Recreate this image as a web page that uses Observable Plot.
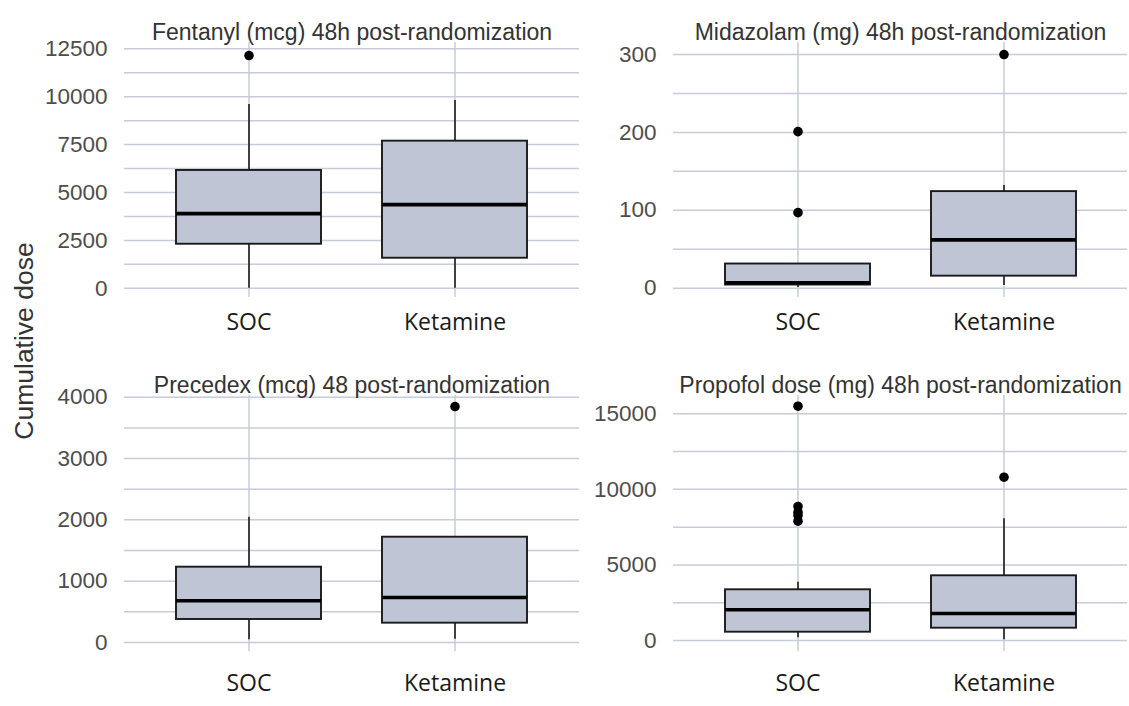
<!DOCTYPE html>
<html>
<head>
<meta charset="utf-8">
<script src="https://cdn.jsdelivr.net/npm/d3@7"></script>
<script src="https://cdn.jsdelivr.net/npm/@observablehq/plot@0.6"></script>
<style>
  body { margin: 0; background: #fff; }
  #wrap { position: relative; width: 1129px; height: 706px; overflow: hidden; background: #fff; }
  #ylab { position: absolute; left: 24px; top: 341px; transform: translate(-50%, -50%) rotate(-90deg);
          font-family: "Liberation Sans", Arial, sans-serif; font-size: 26.5px; line-height: 1; color: #333; white-space: nowrap; }
</style>
</head>
<body>
<div id="wrap"><div id="ylab">Cumulative dose</div></div>
<script>
// categories
const groups = ["SOC", "Ketamine"];

// box statistics: [group, lower whisker, Q1, median, Q3, upper whisker]
const fentanyl = [["SOC", 0, 2300, 3900, 6150, 9590], ["Ketamine", 0, 1570, 4370, 7680, 9800]];
const fentanylOutliers = [["SOC", 12150]];
const fentanylTicks = [0, 2500, 5000, 7500, 10000, 12500];

const midazolam = [["SOC", 1, 4, 7, 31, 31], ["Ketamine", 3.5, 15.4, 62, 124, 132]];
const midazolamOutliers = [["SOC", 201], ["SOC", 97], ["Ketamine", 300]];
const midazolamTicks = [0, 100, 200, 300];

const precedex = [["SOC", 44, 375, 680, 1228, 2043], ["Ketamine", 54, 315, 734, 1717, 1717]];
const precedexOutliers = [["Ketamine", 3848]];
const precedexTicks = [0, 1000, 2000, 3000, 4000];

const propofol = [["SOC", 179, 549, 2031, 3355, 3858], ["Ketamine", 46, 814, 1787, 4281, 8052]];
const propofolOutliers = [["SOC", 15503], ["SOC", 8866], ["SOC", 8490], ["SOC", 8271], ["SOC", 7894], ["Ketamine", 10805]];
const propofolTicks = [0, 5000, 10000, 15000];

const titles = [
  "Fentanyl (mcg) 48h post-randomization",
  "Midazolam (mg) 48h post-randomization",
  "Precedex (mcg) 48 post-randomization",
  "Propofol dose (mg) 48h post-randomization"
];

const W = 1129, H = 706;
const gridColor = "#c7ccd9";
const boxFill = "#bfc5d4";
const ink = "#1a1a1a";

function panel(title, stats, outliers, ticks, cfg) {
  const rows = stats.map(([g, lo, q1, med, q3, hi]) => ({g, lo, q1, med, q3, hi}));
  const outs = outliers.map(([g, v]) => ({g, v}));
  const minor = d3.pairs(ticks).map(([a, b]) => (a + b) / 2);
  const gridVals = ticks.concat(minor);
  return Plot.plot({
    width: W, height: H,
    marginLeft: cfg.left, marginRight: W - cfg.right,
    marginTop: cfg.top, marginBottom: H - cfg.bottom,
    style: {position: "absolute", left: "0px", top: "0px", background: "transparent",
            fontFamily: "'Liberation Sans', Arial, sans-serif", overflow: "visible", maxWidth: "none"},
    x: {type: "band", domain: groups, paddingInner: 0.297, paddingOuter: 0.2485, axis: null},
    y: {domain: cfg.domain, axis: null},
    marks: [
      Plot.ruleY(gridVals, {y: d => d, stroke: gridColor, strokeWidth: 1.5}),
      Plot.ruleX(groups, {x: d => d, stroke: gridColor, strokeWidth: 1.5}),
      Plot.ruleX(rows, {x: "g", y1: "lo", y2: "hi", stroke: ink, strokeWidth: 1.6}),
      Plot.barY(rows, {x: "g", y1: "q1", y2: "q3", fill: boxFill, stroke: ink, strokeWidth: 1.9}),
      Plot.tickY(rows, {x: "g", y: "med", stroke: "#000", strokeWidth: 3.6}),
      Plot.dot(outs, {x: "g", y: "v", r: 4.8, fill: "#000", stroke: null}),
      Plot.text(ticks, {y: d => d, text: d => String(d), frameAnchor: "left", dx: -17, textAnchor: "end",
                        fontSize: 22.5, fill: "#4d4d4d"}),
      Plot.text(groups, {x: d => d, text: d => d, frameAnchor: "bottom", dy: cfg.xlabDy,
                         fontSize: 23, fontFamily: "'Open Sans', sans-serif", fill: ink}),
      Plot.text([title], {text: d => d, frameAnchor: "top", dy: -19, fontSize: 23, fill: "#333"})
    ]
  });
}

const wrap = document.getElementById("wrap");
const top1 = {top: 42, bottom: 297, xlabDy: 32};
const bot1 = {top: 395, bottom: 651, xlabDy: 39};
wrap.appendChild(panel(titles[0], fentanyl, fentanylOutliers, fentanylTicks,
  {...top1, left: 124, right: 579, domain: [-480, 12830]}));
wrap.appendChild(panel(titles[1], midazolam, midazolamOutliers, midazolamTicks,
  {...top1, left: 673, right: 1127, domain: [-12, 315.5]}));
wrap.appendChild(panel(titles[2], precedex, precedexOutliers, precedexTicks,
  {...bot1, left: 124, right: 579, domain: [-147, 4028]}));
wrap.appendChild(panel(titles[3], propofol, propofolOutliers, propofolTicks,
  {...bot1, left: 673, right: 1127, domain: [-728, 16211]}));
</script>
</body>
</html>
